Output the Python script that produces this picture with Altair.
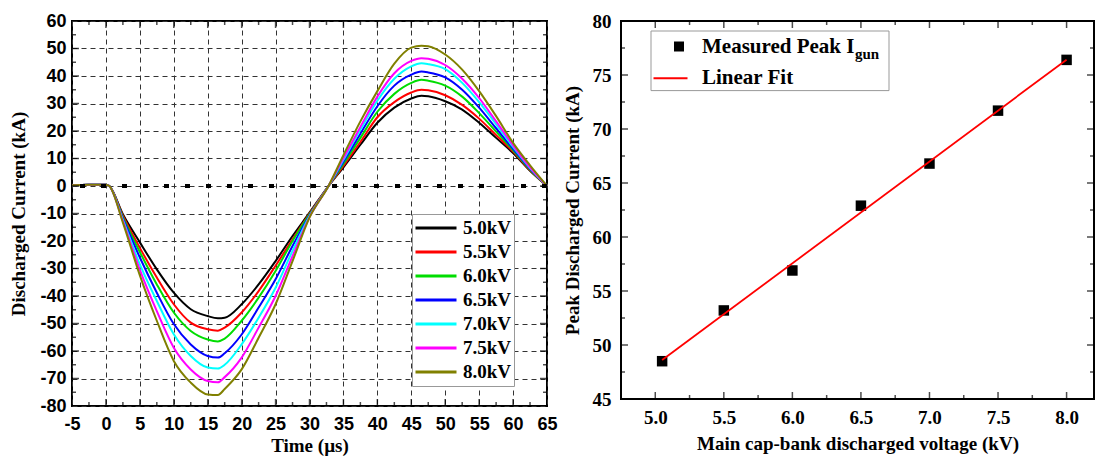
import altair as alt
import pandas as pd

# ---------------- data ----------------
times = [-5, -2.5, 0, 0.5, 2.5, 5, 7.5, 10, 12.5, 15, 16.5, 17.5, 20, 22.5, 25, 27.5,
         30, 32.8, 35, 37.5, 40, 42.5, 45, 46.5, 47.5, 50, 52.5, 55, 57.5, 60, 62.5, 65]

i_5_0 = [0.3, 0.5, 0.5, 0, -10.3, -20.5, -30.3, -38.8, -44.8, -47.3, -48.1, -47.9, -43.0, -35.8, -27.3, -18.2,
         -9.7, 0, 6.8, 15.0, 23.0, 28.5, 31.8, 32.8, 32.6, 30.8, 27.8, 23.0, 17.5, 12.0, 5.5, 0]
i_5_5 = [0.3, 0.5, 0.5, 0, -10.8, -22.5, -33.3, -43.0, -49.7, -52.1, -52.6, -51.5, -46.0, -38.2, -29.0, -19.4,
         -10.0, 0, 7.3, 16.0, 25.0, 30.5, 34.0, 35.0, 34.8, 33.0, 29.5, 24.5, 18.5, 12.5, 5.8, 0]
i_6_0 = [0.3, 0.5, 0.5, 0, -11.3, -24.0, -35.8, -46.0, -52.7, -55.8, -56.5, -55.5, -49.0, -40.6, -30.9, -20.0,
         -10.3, 0, 8.0, 17.5, 27.0, 33.5, 37.5, 38.6, 38.3, 36.5, 32.5, 26.5, 19.8, 13.0, 6.0, 0]
i_6_5 = [0.3, 0.5, 0.5, 0, -11.8, -26.0, -38.8, -50.2, -57.6, -61.8, -62.4, -60.8, -54.0, -44.2, -33.9, -21.8,
         -10.7, 0, 8.8, 19.0, 29.0, 36.5, 40.5, 41.6, 41.3, 39.5, 35.0, 28.5, 21.0, 13.5, 6.2, 0]
i_7_0 = [0.3, 0.5, 0.5, 0, -12.3, -28.5, -41.8, -53.9, -61.8, -66.0, -66.4, -65.0, -57.6, -47.9, -37.0, -23.6,
         -11.0, 0, 9.5, 20.5, 31.0, 39.0, 43.5, 44.6, 44.3, 42.5, 37.5, 30.5, 22.5, 14.2, 6.5, 0]
i_7_5 = [0.3, 0.5, 0.5, 0, -12.8, -30.5, -45.5, -58.8, -66.7, -70.9, -71.4, -69.5, -62.4, -51.5, -40.0, -25.5,
         -11.3, 0, 10.2, 21.5, 32.5, 41.0, 45.5, 46.5, 46.3, 44.0, 39.0, 32.0, 23.5, 14.8, 6.8, 0]
i_8_0 = [0.3, 0.5, 0.5, 0, -13.3, -32.5, -49.0, -63.6, -71.5, -75.8, -76.0, -73.8, -66.7, -55.2, -43.0, -27.3,
         -11.5, 0, 11.2, 23.5, 34.5, 44.5, 50.3, 51.0, 50.8, 47.8, 42.3, 34.5, 25.4, 15.7, 7.5, 0]

series_names = ["5.0kV", "5.5kV", "6.0kV", "6.5kV", "7.0kV", "7.5kV", "8.0kV"]
series_vals = [i_5_0, i_5_5, i_6_0, i_6_5, i_7_0, i_7_5, i_8_0]
series_colors = ["#000000", "#ff0000", "#00dd00", "#0000ff", "#00ffff", "#ff00ff", "#808000"]

volts = [5.05, 5.5, 6.0, 6.5, 7.0, 7.5, 8.0]
peaks = [48.5, 53.2, 56.9, 62.9, 66.8, 71.7, 76.4]

x1_ticks = [-5, 0, 5, 10, 15, 20, 25, 30, 35, 40, 45, 50, 55, 60, 65]
y1_ticks = [-80, -70, -60, -50, -40, -30, -20, -10, 0, 10, 20, 30, 40, 50, 60]
x2_ticks = [5.0, 5.5, 6.0, 6.5, 7.0, 7.5, 8.0]
y2_ticks = [45, 50, 55, 60, 65, 70, 75, 80]

# ---------------- tables ----------------
rows = []
for name, vals in zip(series_names, series_vals):
    for t, v in zip(times, vals):
        rows.append({"t": t, "i": v, "series": name, "k": series_names.index(name)})
wave_df = pd.DataFrame(rows)
peak_df = pd.DataFrame({"volt": volts, "peak": peaks})

SERIF = "Liberation Serif"
SANS = "Liberation Sans"
W1, H1 = 475, 385
W2, H2 = 473, 378
HYPHEN = "'' + datum.value"

xs1 = alt.Scale(domain=[-5, 65], nice=False, zero=False)
ys1 = alt.Scale(domain=[-80, 60], nice=False, zero=False)
xs2 = alt.Scale(domain=[4.75, 8.2], nice=False, zero=False)
ys2 = alt.Scale(domain=[45, 80], nice=False, zero=False)


def tick_layer(field, vals, orient_axis, side, length, W, H, scale):
    df = pd.DataFrame({field: vals})
    if orient_axis == "x":
        pos = H - length / 2 if side == "far" else length / 2
        return alt.Chart(df).mark_tick(size=length, thickness=1.5, color="black", orient="vertical").encode(
            x=alt.X(f"{field}:Q", scale=scale), y=alt.value(pos))
    pos = length / 2 if side == "near" else W - length / 2
    return alt.Chart(df).mark_tick(size=length, thickness=1.5, color="black", orient="horizontal").encode(
        y=alt.Y(f"{field}:Q", scale=scale), x=alt.value(pos))


def all_ticks(xf, xmaj, xmin, yf, ymaj, ymin, W, H, xs, ys):
    layers = []
    for side in ("near", "far"):
        layers.append(tick_layer(xf, xmaj[1:-1], "x", side, 7, W, H, xs))
        layers.append(tick_layer(xf, xmin, "x", side, 4, W, H, xs))
        layers.append(tick_layer(yf, ymaj[1:-1], "y", side, 7, W, H, ys))
        layers.append(tick_layer(yf, ymin, "y", side, 4, W, H, ys))
    return layers


# ---------------- left panel ----------------
lines = alt.Chart(wave_df).mark_line(strokeWidth=2, interpolate="monotone").encode(
    x=alt.X("t:Q", scale=xs1, axis=alt.Axis(
        values=x1_ticks, tickCount=40, labelExpr=HYPHEN, title="Time (µs)", grid=True,
        gridDash=[5, 4], gridColor="#333333", gridWidth=1, ticks=False, tickSize=0, domain=False,
        labelFlush=False, labelOverlap=False, labelFont=SANS, labelFontWeight="bold",
        labelFontSize=18, labelColor="black", labelPadding=9, titleFont=SERIF,
        titleFontWeight="bold", titleFontSize=19, titleColor="black", titlePadding=3)),
    y=alt.Y("i:Q", scale=ys1, axis=alt.Axis(
        values=y1_ticks, tickCount=40, labelExpr=HYPHEN, title="Discharged Current (kA)",
        grid=True, gridDash=[5, 4], gridColor="#333333", gridWidth=1, ticks=False, tickSize=0,
        domain=False, labelFlush=False, labelOverlap=False, labelFont=SANS,
        labelFontWeight="bold", labelFontSize=18, labelColor="black", labelPadding=6,
        titleFont=SERIF, titleFontWeight="bold", titleFontSize=19, titleColor="black",
        titlePadding=11)),
    color=alt.Color("series:N", scale=alt.Scale(domain=series_names, range=series_colors),
                    legend=alt.Legend(
                        title=None, orient="none", legendX=340, legendY=193, symbolType="stroke",
                        symbolSize=1681, symbolStrokeWidth=3, clipHeight=24, rowPadding=0,
                        labelOffset=5, padding=2, labelFont=SERIF, labelFontWeight="bold",
                        labelFontSize=19, labelColor="black", fillColor="white",
                        strokeColor="#999999", cornerRadius=0)),
    order=alt.Order("k:Q"),
)

zero_df = pd.DataFrame({"i": [0]})
zero_line = alt.Chart(zero_df).mark_rule(color="black", strokeWidth=4, strokeDash=[5, 16]).encode(
    y=alt.Y("i:Q", scale=ys1))

x1_minor = [v + 2.5 for v in x1_ticks[:-1]]
y1_minor = [v + 5 for v in y1_ticks[:-1]]
left = alt.layer(
    lines, zero_line,
    *all_ticks("t", x1_ticks, x1_minor, "i", y1_ticks, y1_minor, W1, H1, xs1, ys1),
).properties(width=W1, height=H1)

# ---------------- right panel ----------------
pts = alt.Chart(peak_df).mark_square(size=110, color="black", opacity=1).encode(
    x=alt.X("volt:Q", scale=xs2, axis=alt.Axis(
        values=x2_ticks, tickCount=40, format=".1f", title="Main cap-bank discharged voltage (kV)",
        grid=False, ticks=False, tickSize=0, domain=False, labelFlush=False, labelOverlap=False,
        labelFont=SERIF, labelFontWeight="bold", labelFontSize=19, labelColor="black",
        labelPadding=9, titleFont=SERIF, titleFontWeight="bold", titleFontSize=19,
        titleColor="black", titlePadding=7)),
    y=alt.Y("peak:Q", scale=ys2, axis=alt.Axis(
        values=y2_ticks, tickCount=40, title="Peak Discharged Current (kA)", grid=False, ticks=False,
        tickSize=0, domain=False, labelFlush=False, labelOverlap=False, labelFont=SERIF,
        labelFontWeight="bold", labelFontSize=19, labelColor="black", labelPadding=10,
        titleFont=SERIF, titleFontWeight="bold", titleFontSize=19, titleColor="black",
        titlePadding=10)),
)

fit = alt.Chart(peak_df).transform_regression("volt", "peak").mark_line(
    color="#ff0000", strokeWidth=1.8).encode(
    x=alt.X("volt:Q", scale=xs2), y=alt.Y("peak:Q", scale=ys2))

leg_df = pd.DataFrame({"a": [0]})
leg_box = alt.Chart(leg_df).mark_rect(fill="white", stroke="#999999", strokeWidth=1).encode(
    x=alt.value(30), x2=alt.value(268), y=alt.value(10), y2=alt.value(69.6))
leg_sq = alt.Chart(leg_df).mark_square(size=100, color="black", opacity=1).encode(
    x=alt.value(58), y=alt.value(25.5))
leg_t1 = alt.Chart(leg_df).mark_text(text="Measured Peak I", align="left", baseline="middle",
                                      font=SERIF, fontWeight="bold", fontSize=21, color="black").encode(
    x=alt.value(81), y=alt.value(25.5))
leg_t1s = alt.Chart(leg_df).mark_text(text="gun", align="left", baseline="middle",
                                       font=SERIF, fontWeight="bold", fontSize=15, color="black").encode(
    x=alt.value(234), y=alt.value(33))
leg_ln = alt.Chart(leg_df).mark_rule(color="#ff0000", strokeWidth=2).encode(
    x=alt.value(32.5), x2=alt.value(66.5), y=alt.value(57.3))
leg_t2 = alt.Chart(leg_df).mark_text(text="Linear Fit", align="left", baseline="middle",
                                      font=SERIF, fontWeight="bold", fontSize=21, color="black").encode(
    x=alt.value(81), y=alt.value(57.3))

x2_minor = [v + 0.25 for v in x2_ticks[:-1]]
y2_minor = [v + 2.5 for v in y2_ticks[:-1]]
right = alt.layer(
    pts, fit,
    *all_ticks("volt", [4.75] + x2_ticks + [8.2], x2_minor, "peak", y2_ticks, y2_minor, W2, H2, xs2, ys2),
    leg_box, leg_sq, leg_t1, leg_t1s, leg_ln, leg_t2,
).properties(width=W2, height=H2)

chart = alt.hconcat(left, right, spacing=74, bounds="flush").properties(
    padding={"left": 8, "top": 11, "right": 0, "bottom": 0},
    background="white",
).configure_view(stroke="black", strokeWidth=2)

chart.save("out.html", embed_options={"renderer": "svg", "actions": False})
